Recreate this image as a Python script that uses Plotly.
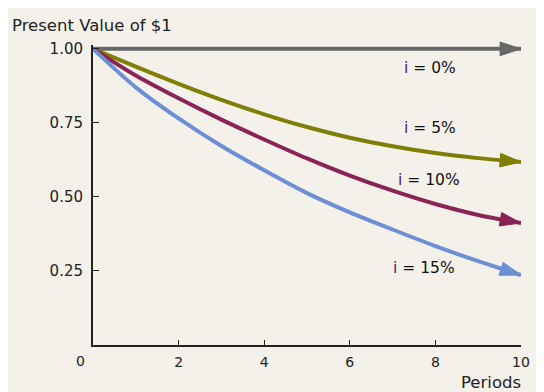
import plotly.graph_objects as go

periods = [0, 1, 2, 3, 4, 5, 6, 7, 8, 9, 10]
pv_0 = [1.0, 1.0, 1.0, 1.0, 1.0, 1.0, 1.0, 1.0, 1.0, 1.0, 1.0]
pv_5 = [1.0, 0.940, 0.882, 0.828, 0.779, 0.736, 0.700, 0.671, 0.648, 0.631, 0.618]
pv_10 = [1.0, 0.910, 0.833, 0.761, 0.694, 0.630, 0.572, 0.521, 0.476, 0.439, 0.412]
pv_15 = [1.0, 0.870, 0.765, 0.672, 0.590, 0.513, 0.448, 0.390, 0.334, 0.283, 0.236]
series_labels = ["0%", "5%", "10%", "15%"]
y_tickvals = [0.25, 0.5, 0.75, 1.0]
y_ticktext = ["0.25", "0.50", "0.75", "1.00"]
x_tickvals = [2, 4, 6, 8, 10]

colors = ["#676767", "#7f7f08", "#8a2456", "#6f8fd4"]
series = [pv_0, pv_5, pv_10, pv_15]
label_pos = [(437, 68), (437, 128), (436, 180), (431, 268)]
bg = "#f4f1ea"
font = "DejaVu Sans, Verdana, sans-serif"
txt = "#222222"

# plot area in page pixels (page has an 8px body margin)
W, H = 528, 384
PX0, PX1, PY0, PY1 = 93, 530, 45, 345


def px(xp):
    return (xp - PX0) / (PX1 - PX0)


def py(yp):
    return (PY1 - yp) / (PY1 - PY0)


fig = go.Figure()
for vals, col in zip(series, colors):
    n = len(vals)
    fig.add_trace(go.Scatter(
        x=periods, y=vals, mode="lines+markers",
        line=dict(color=col, width=4, shape="spline", smoothing=0.8),
        marker=dict(symbol=["circle"] * (n - 1) + ["arrow"],
                    size=[0] * (n - 1) + [22], color=col, opacity=1,
                    angleref="previous", standoff=0,
                    line=dict(width=1, color=col)),
        opacity=1, cliponaxis=False, hoverinfo="skip", showlegend=False))

for lab, (xp, yp) in zip(series_labels, label_pos):
    fig.add_annotation(x=px(xp), y=py(yp), xref="paper", yref="paper",
                       text="<span style='color:#4a2470'>i</span> = " + lab,
                       showarrow=False, font=dict(size=15.5, color="#111111", family=font),
                       xanchor="center", yanchor="middle")

fig.add_annotation(x=px(8), y=py(25), xref="paper", yref="paper",
                   text="Present Value of $1", showarrow=False,
                   font=dict(size=16.5, color=txt, family=font),
                   xanchor="left", yanchor="middle")
fig.add_annotation(x=px(532), y=py(382), xref="paper", yref="paper",
                   text="Periods", showarrow=False,
                   font=dict(size=16.5, color=txt, family=font),
                   xanchor="right", yanchor="middle")
fig.add_annotation(x=px(80), y=py(361), xref="paper", yref="paper",
                   text="0", showarrow=False,
                   font=dict(size=14, color=txt, family=font),
                   xanchor="center", yanchor="middle")

fig.update_layout(
    width=W, height=H,
    margin=dict(l=PX0 - 8, r=W - (PX1 - 8), t=PY0 - 8, b=H - (PY1 - 8)),
    paper_bgcolor=bg, plot_bgcolor=bg,
    xaxis=dict(range=[0, 10], showgrid=False, zeroline=False, showline=True,
               linecolor="#222222", linewidth=2, ticks="inside", ticklen=5,
               tickcolor="#222222", tickwidth=1, tickvals=x_tickvals,
               tickfont=dict(size=14, color=txt, family=font),
               ticklabelstandoff=3, ticklabeloverflow="allow"),
    yaxis=dict(range=[0, 1.013], showgrid=False, zeroline=False, showline=True,
               linecolor="#222222", linewidth=2, ticks="inside", ticklen=6,
               tickcolor="#222222", tickwidth=1, tickvals=y_tickvals,
               ticktext=y_ticktext,
               tickfont=dict(size=15, color=txt, family=font),
               ticklabelstandoff=5),
)

fig.write_html("out.html")
